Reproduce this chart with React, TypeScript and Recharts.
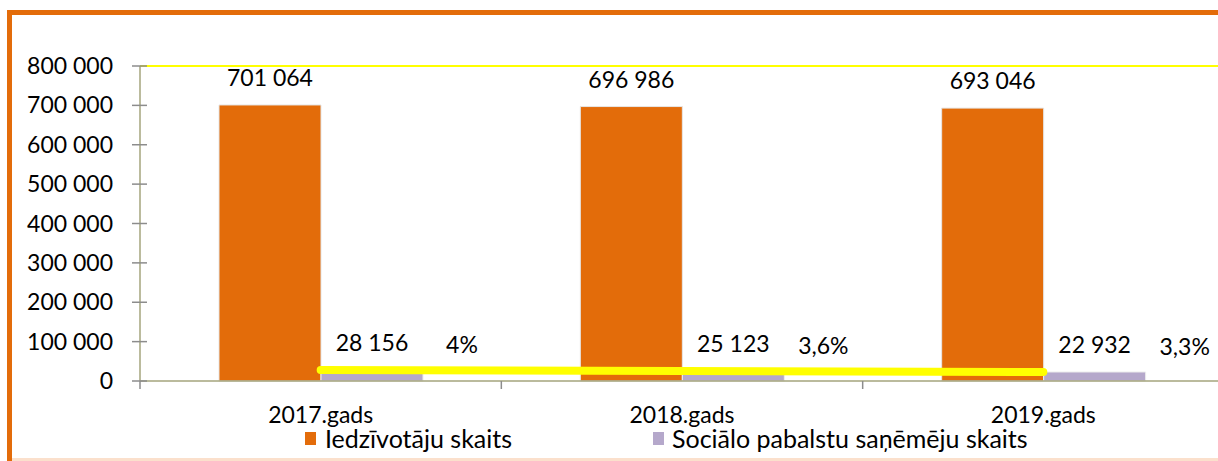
import { ComposedChart, Bar, Line, XAxis, YAxis, ReferenceLine, LabelList } from "recharts";

const years = ["2017.gads", "2018.gads", "2019.gads"];
const residents = [701064, 696986, 693046];
const recipients = [28156, 25123, 22932];
const shares = ["4%", "3,6%", "3,3%"];
const yTicks = [0, 100000, 200000, 300000, 400000, 500000, 600000, 700000, 800000];

const data = years.map((year, i) => ({
  year,
  residents: residents[i],
  recipients: recipients[i],
  share: shares[i],
}));

const ORANGE = "#e36c0a";
const PURPLE = "#b5a8cb";
const AXIS = "#a4a47c";
const TICK = "#8c8c8c";
const FONT = "Lato, 'Noto Sans', sans-serif";

const W = 1240;
const H = 461;
const margin = { top: 66, right: 16, left: 0, bottom: 50 };
const Y_WIDTH = 140;
const BAND = (W - margin.right - Y_WIDTH) / years.length;

const fmt = (v: number) => String(v).replace(/\B(?=(\d{3})+(?!\d))/g, " ");

const YTick = (props: any) => {
  const { x, y, payload } = props;
  const axisX = x + 8 + 19;
  return (
    <g>
      <line x1={axisX} x2={axisX + 7} y1={y} y2={y} stroke={TICK} strokeWidth={1.5} />
      <text x={x} y={y + 8} textAnchor="end" fontSize={23} fontFamily={FONT} fill="#000">
        {fmt(payload.value)}
      </text>
    </g>
  );
};

const XTick = (props: any) => {
  const { x, y, payload } = props;
  const axisY = y - 8 - 14;
  const bx = x - BAND / 2;
  return (
    <g>
      <line x1={bx} x2={bx} y1={axisY} y2={axisY + 8} stroke={TICK} strokeWidth={1.5} />
      <text x={x} y={axisY + 42} textAnchor="middle" fontSize={23} fontFamily={FONT} fill="#000">
        {payload.value}
      </text>
    </g>
  );
};

const ValueLabel = (props: any) => {
  const { x, y, width, value } = props;
  return (
    <text x={x + width / 2} y={y - 19} textAnchor="middle" fontSize={23} fontFamily={FONT} fill="#000">
      {fmt(value)}
    </text>
  );
};

const RecipientLabel = (props: any) => {
  const { x, y, width, value, index } = props;
  const i = typeof index === "number" ? index : recipients.indexOf(value);
  return (
    <g>
      <text x={x + width / 2} y={y - 19} textAnchor="middle" fontSize={23} fontFamily={FONT} fill="#000">
        {fmt(value)}
      </text>
      <text x={x + width / 2 + 90} y={y - 17} textAnchor="middle" fontSize={23} fontFamily={FONT} fill="#000">
        {shares[i]}
      </text>
    </g>
  );
};

export default function App() {
  return (
    <div
      style={{
        position: "absolute",
        left: 0,
        top: 0,
        width: 1218,
        height: 461,
        overflow: "hidden",
        background: "#fff",
        fontFamily: FONT,
      }}
    >
      <div style={{ position: "absolute", left: 0, top: 0 }}>
        <ComposedChart width={W} height={H} data={data} margin={margin} barGap={0} barSize={102}>
          <YAxis
            width={Y_WIDTH}
            domain={[0, 800000]}
            ticks={yTicks}
            interval={0}
            tickSize={8}
            tickMargin={19}
            axisLine={{ stroke: AXIS, strokeWidth: 1.5 }}
            tickLine={{ stroke: TICK, strokeWidth: 1.5 }}
            tick={<YTick />}
          />
          <XAxis
            dataKey="year"
            height={30}
            tickSize={8}
            tickMargin={14}
            tickLine={false}
            axisLine={{ stroke: AXIS, strokeWidth: 1.5 }}
            tick={<XTick />}
            interval={0}
          />
          <ReferenceLine y={800000} stroke="#ffff00" strokeWidth={2} />
          <Bar dataKey="residents" fill={ORANGE} stroke="#e6e6e6" strokeWidth={1} isAnimationActive={false}>
            <LabelList dataKey="residents" content={<ValueLabel />} />
          </Bar>
          <Bar dataKey="recipients" fill={PURPLE} stroke="#eeeeee" strokeWidth={1} isAnimationActive={false}>
            <LabelList dataKey="recipients" content={<RecipientLabel />} />
          </Bar>
          <Line
            type="linear"
            dataKey="recipients"
            stroke="#ffff00"
            strokeWidth={8}
            strokeLinecap="round"
            dot={false}
            activeDot={false}
            isAnimationActive={false}
          />
        </ComposedChart>
      </div>

      <div
        style={{
          position: "absolute",
          top: 429,
          left: 0,
          height: 18,
          width: 1218,
          fontSize: 25,
          lineHeight: "18px",
          color: "#000",
        }}
      >
        <span style={{ position: "absolute", left: 305, top: 3, width: 11, height: 13, background: ORANGE }} />
        <span style={{ position: "absolute", left: 325, top: 0 }}>Iedzīvotāju skaits</span>
        <span style={{ position: "absolute", left: 653, top: 3, width: 11, height: 13, background: PURPLE }} />
        <span style={{ position: "absolute", left: 672, top: 0 }}>Sociālo pabalstu saņēmēju skaits</span>
      </div>

      <div
        style={{
          position: "absolute",
          left: 12,
          top: 458,
          width: 1230,
          height: 3,
          background: "#fbe0cc",
        }}
      />
      <div
        style={{
          position: "absolute",
          left: 7,
          top: 10,
          width: 1240,
          height: 470,
          borderTop: `5px solid ${ORANGE}`,
          borderLeft: `5px solid ${ORANGE}`,
          boxSizing: "border-box",
          pointerEvents: "none",
        }}
      />
    </div>
  );
}
